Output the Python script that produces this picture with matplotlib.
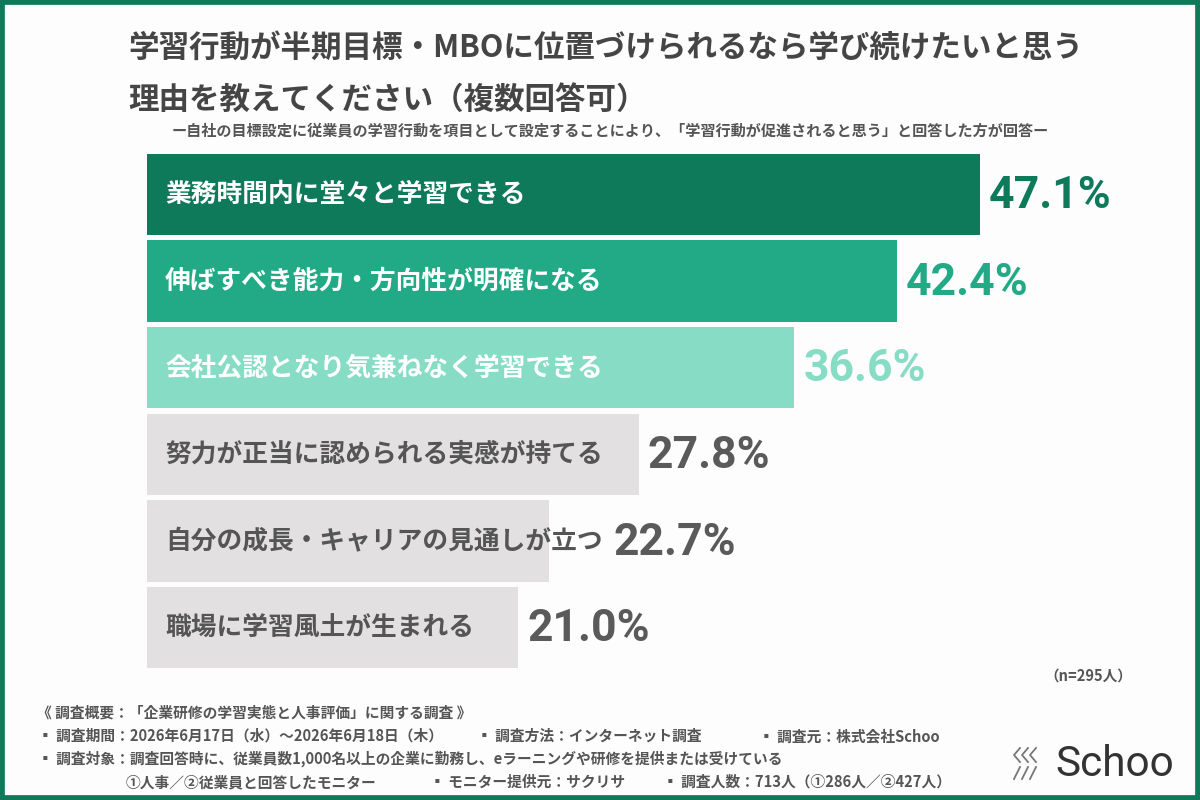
import matplotlib
matplotlib.use("Agg")
import matplotlib.pyplot as plt
from matplotlib.patches import Rectangle

plt.rcParams['font.family'] = ['Noto Sans CJK JP', 'DejaVu Sans']

categories = [
    "業務時間内に堂々と学習できる",
    "伸ばすべき能力・方向性が明確になる",
    "会社公認となり気兼ねなく学習できる",
    "努力が正当に認められる実感が持てる",
    "自分の成長・キャリアの見通しが立つ",
    "職場に学習風土が生まれる",
]
values = [47.1, 42.4, 36.6, 27.8, 22.7, 21.0]
value_labels = ["47.1%", "42.4%", "36.6%", "27.8%", "22.7%", "21.0%"]

title_lines = ["学習行動が半期目標・MBOに位置づけられるなら学び続けたいと思う",
               "理由を教えてください（複数回答可）"]
subtitle = "ー自社の目標設定に従業員の学習行動を項目として設定することにより、「学習行動が促進されると思う」と回答した方が回答ー"
sample_note = "（n=295人）"

bar_colors = ["#0f7a5a", "#22aa86", "#86dcc5", "#e3e0e2", "#e3e0e2", "#e3e0e2"]
inner_text_colors = ["white", "white", "white", "#555555", "#555555", "#555555"]
value_colors = ["#0f7a5a", "#22aa86", "#86dcc5", "#5a5a5a", "#5a5a5a", "#5a5a5a"]

W, H = 1200, 800
fig = plt.figure(figsize=(12, 8), dpi=100)
fig.patch.set_facecolor("#fdfdfd")

# green frame
fig.patches.append(Rectangle((0, 0), 1, 1, transform=fig.transFigure,
                             fill=False, edgecolor="#0f7a5a", linewidth=7, zorder=10))

def fx(px):
    return px / W

def fy(py):
    return 1 - py / H

# Title
fig.text(fx(128), fy(48), title_lines[0], fontsize=22.0, fontweight='bold',
         color="#454545", ha='left', va='center')
fig.text(fx(128), fy(100), title_lines[1], fontsize=22.0, fontweight='bold',
         color="#454545", ha='left', va='center')
fig.text(fx(610), fy(131), subtitle, fontsize=10.9, fontweight='bold',
         color="#555555", ha='center', va='center')

# Bars
ax = fig.add_axes([fx(147), fy(670.8), 1000 / W, (670.8 - 151.2) / H])
ax.set_facecolor("none")
ypos = list(range(len(categories)))
ax.barh(ypos, values, height=0.94, color=bar_colors, edgecolor='none')
ax.set_xlim(0, 1000 / 17.69)
ax.set_ylim(len(categories) - 0.5, -0.5)
ax.axis('off')
inner_texts = []
for i, cat in enumerate(categories):
    t = ax.text(1.02, i, cat, fontsize=18.5, fontweight='bold', color=inner_text_colors[i],
                ha='left', va='center')
    inner_texts.append(t)

fig.canvas.draw()
renderer = fig.canvas.get_renderer()
inv = ax.transData.inverted()
for i, (v, lab) in enumerate(zip(values, value_labels)):
    bb = inner_texts[i].get_window_extent(renderer)
    text_end = inv.transform((bb.x1, 0))[0]
    x = max(v + 0.5, text_end + 0.6)
    ax.text(x, i + 0.02, lab, fontsize=32, fontweight='bold', color=value_colors[i],
            ha='left', va='center', family=['Roboto', 'DejaVu Sans'])

fig.text(fx(1132), fy(676), sample_note, fontsize=10.5, fontweight='bold',
         color="#555555", ha='right', va='center')

# Footnotes
fc = "#555555"
fs = 10.6
fig.text(fx(37), fy(713), "《 調査概要：「企業研修の学習実態と人事評価」に関する調査 》",
         fontsize=fs, fontweight='bold', color=fc, va='center')
fig.text(fx(38), fy(736), "▪ 調査期間：2026年6月17日（水）～2026年6月18日（木）",
         fontsize=fs, fontweight='bold', color=fc, va='center')
fig.text(fx(477), fy(736), "▪ 調査方法：インターネット調査",
         fontsize=fs, fontweight='bold', color=fc, va='center')
fig.text(fx(759), fy(736), "▪ 調査元：株式会社Schoo",
         fontsize=fs, fontweight='bold', color=fc, va='center')
fig.text(fx(38), fy(759), "▪ 調査対象：調査回答時に、従業員数1,000名以上の企業に勤務し、eラーニングや研修を提供または受けている",
         fontsize=fs, fontweight='bold', color=fc, va='center')
fig.text(fx(126), fy(782), "①人事／②従業員と回答したモニター",
         fontsize=fs, fontweight='bold', color=fc, va='center')
fig.text(fx(430), fy(782), "▪ モニター提供元：サクリサ",
         fontsize=fs, fontweight='bold', color=fc, va='center')
fig.text(fx(663), fy(782), "▪ 調査人数：713人（①286人／②427人）",
         fontsize=fs, fontweight='bold', color=fc, va='center')

# Schoo logo
fig.text(fx(1055), fy(765), "Schoo", fontsize=30.5, color="#333333",
         ha='left', va='center', family=['Roboto', 'DejaVu Sans'])
for k in range(3):
    x0 = 1014 + k * 8
    fig.add_artist(plt.Line2D([fx(x0 + 6), fx(x0), fx(x0 + 6)],
                              [fy(748), fy(755), fy(762)], color="#777777", lw=1.3))
    fig.add_artist(plt.Line2D([fx(x0), fx(x0 + 6)],
                              [fy(779), fy(767)], color="#777777", lw=1.3))

fig.savefig("out.png", dpi=100, facecolor=fig.get_facecolor())
